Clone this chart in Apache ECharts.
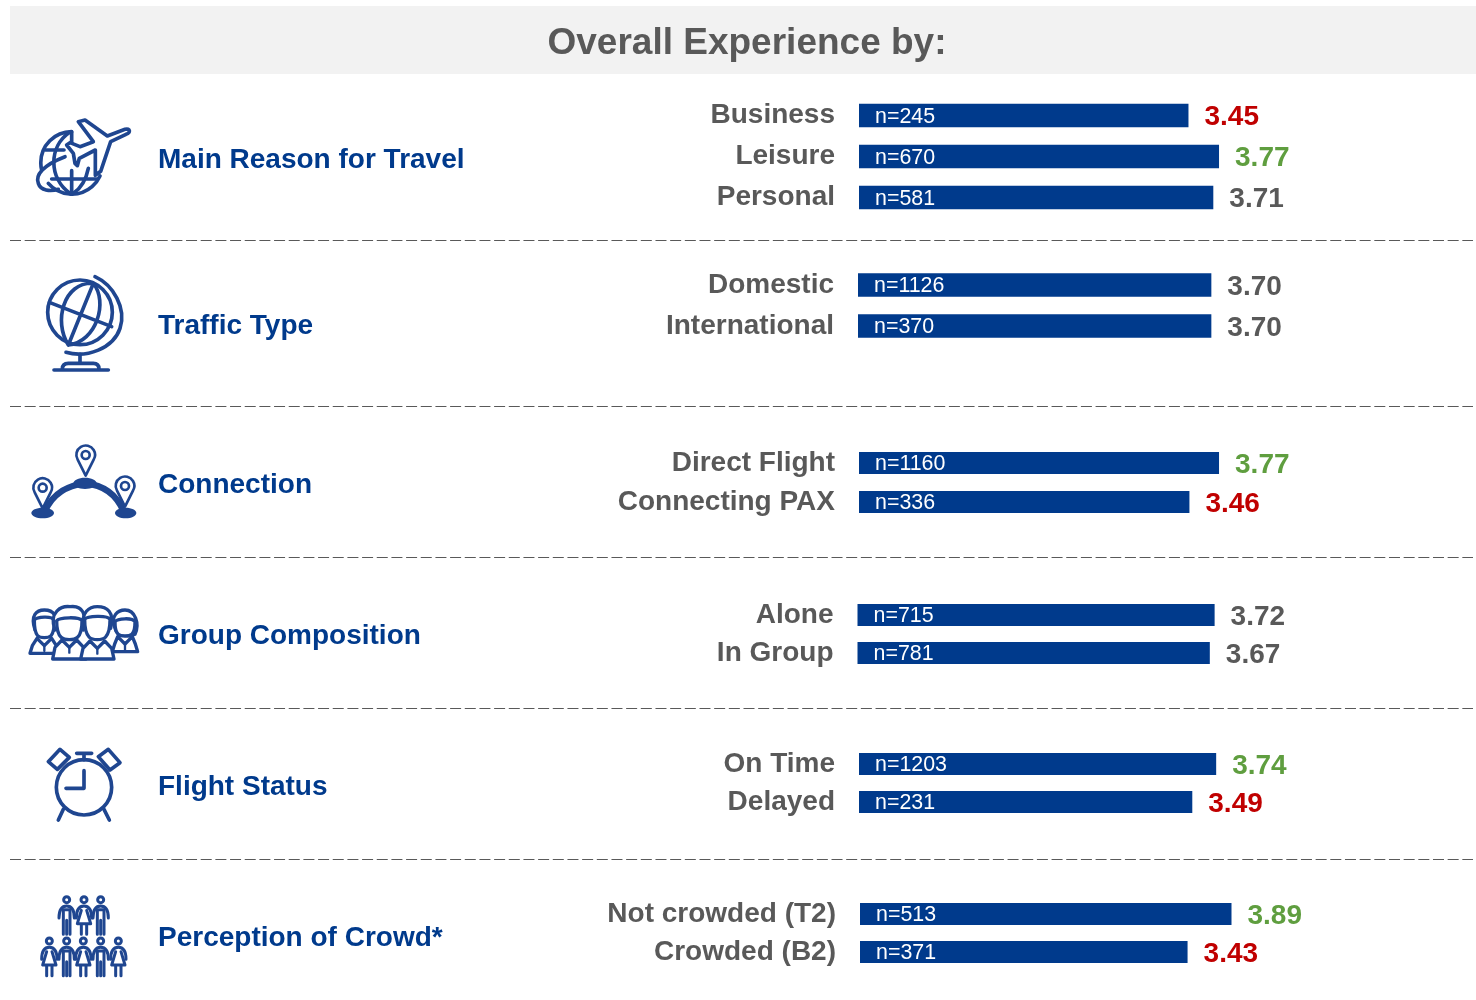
<!DOCTYPE html>
<html><head><meta charset="utf-8">
<style>html,body{margin:0;padding:0;background:#fff}#c{width:1476px;height:1000px}</style>
<script src="https://cdn.jsdelivr.net/npm/echarts@6/dist/echarts.min.js"></script>
</head><body><div id="c"></div>
<script>
const pageTitle = 'Overall Experience by:';
const groupTitles = ['Main Reason for Travel','Traffic Type','Connection','Group Composition','Flight Status','Perception of Crowd*'];
const categories = [['Business','Leisure','Personal'],['Domestic','International'],['Direct Flight','Connecting PAX'],['Alone','In Group'],['On Time','Delayed'],['Not crowded (T2)','Crowded (B2)']];
const scores = [[3.45,3.77,3.71],[3.70,3.70],[3.77,3.46],[3.72,3.67],[3.74,3.49],[3.89,3.43]];
const sampleSizes = [[245,670,581],[1126,370],[1160,336],[715,781],[1203,231],[513,371]];
const tones = [['low','high','mid'],['mid','mid'],['high','low'],['mid','mid'],['high','low'],['high','low']];
const toneColors = {low:'#c00000',high:'#5f9e3f',mid:'#595959'};

const FONT='"Liberation Sans",Arial,sans-serif', NAVY='#003a8c', ICON='#1f4690', GREY='#595959';
// layout per group: plot left, plot top, band height, bar height, px per unit
const layout=[[859,95,41,23.5,95.5],[858,264.5,41,23.5,95.5],[859,443.5,39,22,95.5],[857.5,596,38,22,96],[859,745,38,22,95.5],[860,895,38,22,95.5]];
const titleY=[160,326,485,636,787,938];
const sepY=[240,406,557,708,859];
const axisMax=5;

const grid=[],xAxis=[],yAxis=[],series=[];
categories.forEach((cats,g)=>{
  const [l,t,b,bh,ppu]=layout[g];
  grid.push({left:l,top:t,width:ppu*axisMax,height:b*cats.length,containLabel:false});
  xAxis.push({gridIndex:g,type:'value',min:0,max:axisMax,show:false});
  yAxis.push({gridIndex:g,type:'category',inverse:true,data:cats,axisLine:{show:false},axisTick:{show:false},splitLine:{show:false},
    axisLabel:{color:GREY,fontFamily:FONT,fontWeight:'bold',fontSize:28,margin:24,align:'right',padding:[4,0,0,0]}});
  series.push({type:'bar',xAxisIndex:g,yAxisIndex:g,barWidth:bh,barGap:'-100%',silent:true,
    data:scores[g],itemStyle:{color:NAVY},
    label:{show:true,position:'insideLeft',distance:16,offset:[0,1.5],color:'#fff',fontFamily:FONT,fontSize:21.4,
      formatter:p=>'n='+sampleSizes[g][p.dataIndex]}});
  series.push({type:'bar',xAxisIndex:g,yAxisIndex:g,barWidth:bh,barGap:'-100%',silent:true,
    data:scores[g].map((v,i)=>({value:v,label:{color:toneColors[tones[g][i]]}})),itemStyle:{color:'transparent'},
    label:{show:true,position:'right',distance:16,offset:[0,2],fontFamily:FONT,fontWeight:'bold',fontSize:28,
      formatter:p=>p.value.toFixed(2)}});
});

// icon helpers: drawn in local units at 1/3 page scale
const st=(w,fill)=>({stroke:ICON,lineWidth:w,fill:fill||'none',lineJoin:'round',lineCap:'round'});
const P=(d,w,fill)=>({type:'path',shape:{pathData:d},style:st(w,fill)});
const C=(cx,cy,r,w,fill)=>({type:'circle',shape:{cx,cy,r},style:st(w,fill)});
const E=(cx,cy,rx,ry,fill)=>({type:'ellipse',shape:{cx,cy,rx,ry},style:{fill:fill}});
const icon=(x,y,children)=>({type:'group',x,y,scaleX:1/3,scaleY:1/3,children});

const pin=(x,y)=>[P(`M${x} ${y+62} L${x-24} ${y+14} A28 28 0 1 1 ${x+24} ${y+14} Z`,8,'#fff'),C(x,y,12,8,'#fff')];
const person=(cx,top,rx,h,bt,bb,bw,hair)=>[
  P(`M${cx-bw} ${bb} L${cx-bw+7} ${bt+22} L${cx-22} ${bt} L${cx} ${bt+22} L${cx+22} ${bt} L${cx+bw-7} ${bt+22} L${cx+bw} ${bb} Z`,10,'#fff'),
  P(hair,10,'#fff'),
  P(`M${cx-rx} ${top+25} C${cx-rx} ${top+h} ${cx-15} ${top+h} ${cx} ${top+h} C${cx+15} ${top+h} ${cx+rx} ${top+h} ${cx+rx} ${top+25} C${cx+rx-8} ${top+12} ${cx-rx+8} ${top+15} ${cx-rx} ${top+25} Z`,10,'#fff'),
  P(`M${cx} ${bt+22} V${bt+38}`,7)];
const figure=(cx,y,female)=>{
  const arms=P(`M${cx-23} ${y+55} C${cx-23} ${y+28} ${cx-12} ${y+19} ${cx} ${y+19} C${cx+12} ${y+19} ${cx+23} ${y+28} ${cx+23} ${y+55}`,9);
  const head=C(cx,y,9,9,'#fff');
  if(female) return [head,arms,P(`M${cx-8} ${y+32} L${cx-20} ${y+72} H${cx+20} L${cx+8} ${y+32} M${cx-8} ${y+72} V${y+104} M${cx+8} ${y+72} V${y+104}`,9)];
  return [head,arms,P(`M${cx-10} ${y+30} V${y+104} M${cx+10} ${y+30} V${y+104} M${cx} ${y+62} V${y+104} M${cx-10} ${y+30} H${cx+10}`,9)];
};

const icons=[
 icon(20,100,[
  P('M155 95 A93 93 0 0 0 65 210',11),
  P('M85 250 A93 93 0 0 0 240 228',11),
  P('M150 96 C85 140 85 235 152 282',11),P('M205 205 C198 240 182 265 160 280',11),
  P('M155 96 V130 M155 212 V282 M76 150 H132 M95 237 H230',11),
  P('M135 170 C70 195 45 225 55 250 C62 272 90 275 115 268',11),
  P('M175 65 L195 60 L262 108 L315 88 C332 84 332 98 318 103 L272 125 L242 214 L226 226 L226 150 L178 175 L172 197 L165 190 L160 160 L140 135 L150 128 L180 140 L220 125 Z',11,'#fff')
 ]),
 icon(30,265,[
  C(150,142,97,11),
  P('M58 112 L245 185 M190 55 L115 240 M190 55 C100 50 70 170 115 240 M190 55 C235 110 200 230 115 240',11),
  P('M195 35 C250 60 290 130 270 190 C250 250 170 280 108 262',11),
  P('M150 268 V295 M97 312 C97 298 105 295 115 295 H190 C200 295 207 300 207 312 M72 315 H235',11)
 ]),
 icon(20,435,[
  P('M75 228 C100 172 150 150 195 145 C250 150 290 180 310 228',19),
  E(68,234,34,16,ICON),E(195,145,35,17,ICON),E(317,234,32,16,ICON),
  ...pin(197,60),...pin(68,158),...pin(315,153)
 ]),
 icon(20,595,[
  ...person(73,50,30,78,130,175,43,'M45 105 C30 60 50 45 73 45 C100 45 115 60 102 105'),
  ...person(315,55,30,68,125,170,38,'M285 100 C270 60 295 45 315 45 C345 45 360 85 345 118 C330 125 290 125 285 100'),
  ...person(148,52,38,82,135,192,50,'M105 105 C85 50 125 32 150 35 C190 30 200 60 190 105'),
  ...person(232,48,38,86,138,192,50,'M192 100 C180 50 210 35 232 35 C260 35 285 50 272 100')
 ]),
 icon(30,740,[
  C(162,142,83,11),
  P('M162 92 V145 H108 M140 40 H185 M162 40 V60 M100 208 L85 240 M222 208 L238 240',11),
  P('M55 65 L90 28 L118 52 L82 88 Z',11),
  P('M205 50 L235 28 L270 68 L240 90 Z',11)
 ]),
 icon(30,885,[
  ...figure(110,44,false),...figure(162,44,true),...figure(212,44,false),
  ...figure(58,168,true),...figure(110,168,false),...figure(160,168,true),...figure(212,168,false),...figure(265,168,true)
 ])
];

series.push({type:'custom',coordinateSystem:'none',silent:true,data:icons.map((_,i)=>i),
  renderItem:(params)=>icons[params.dataIndex]});

const graphic=[
 {type:'rect',shape:{x:10,y:6,width:1466,height:68},style:{fill:'#f2f2f2'},z:-1},
 {type:'text',x:747,y:44,style:{text:pageTitle,fill:GREY,font:'bold 37px '+FONT,textAlign:'center',textVerticalAlign:'middle'}},
 ...groupTitles.map((t,i)=>({type:'text',x:158,y:titleY[i],style:{text:t,fill:NAVY,font:'bold 28px '+FONT,textAlign:'left',textVerticalAlign:'middle'}})),
 ...sepY.map(y=>({type:'line',shape:{x1:10,y1:y+.5,x2:1473,y2:y+.5},style:{stroke:'#595959',lineWidth:1.2,lineDash:[11,3.67]}}))
];

const chart=echarts.init(document.getElementById('c'),null,{renderer:'canvas'});
chart.setOption({animation:false,backgroundColor:'#fff',grid,xAxis,yAxis,series,graphic});
</script></body></html>
